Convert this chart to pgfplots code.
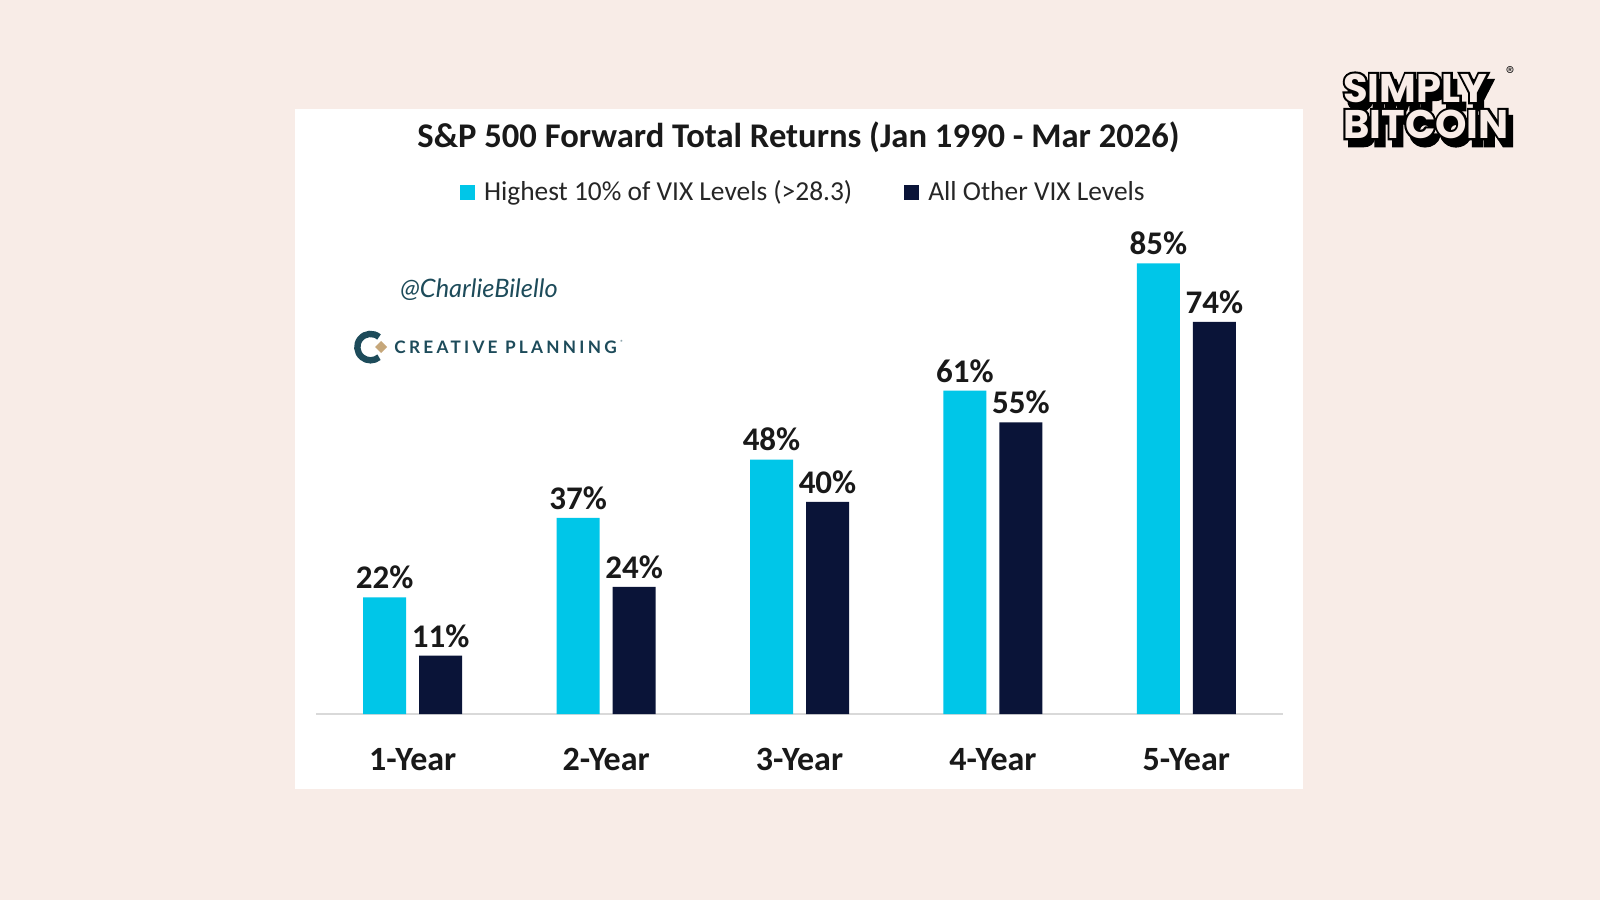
\documentclass[border=0pt]{standalone}
\usepackage{pgfplots}
\pgfplotsset{compat=1.18}
\usepackage{fontspec}
\setmainfont{Carlito}
\newfontfamily\handfont{Lato}
\newfontfamily\cpfont{Lato}[LetterSpace=19]
\newfontfamily\sbfont{Poppins}
\newfontfamily\sbfat{Poppins}[BoldFeatures={FakeBold=11}]

\definecolor{bg}{HTML}{F8ECE7}
\definecolor{vixhigh}{HTML}{00C6E8}
\definecolor{vixother}{HTML}{0A1438}
\definecolor{cpteal}{HTML}{1D4B5A}
\definecolor{cpgold}{HTML}{C6A77A}
\definecolor{baseln}{HTML}{D9D9D9}

\tikzset{sbword/.style={align=left, inner sep=0pt,
  font=\sbfont\bfseries\fontsize{20}{18}\selectfont},
  sbshadow/.style={align=left, inner sep=0pt, text=black,
  font=\sbfat\bfseries\fontsize{20}{18}\selectfont}}

\begin{document}
\begin{tikzpicture}[x=1pt,y=1pt]
% page and white chart panel
\fill[bg] (0,0) rectangle (800,450);
\fill[white] (147.5,55.5) rectangle (651.5,395.5);

% title
\node[font=\bfseries\fontsize{17.3}{20}\selectfont, text=black!90] at (399.25,381.5)
  {S\&P 500 Forward Total Returns (Jan 1990 - Mar 2026)};

% author tag and company mark
\node[font=\handfont\itshape\fontsize{12.7}{14}\selectfont, text=cpteal] at (239.5,305) {@CharlieBilello};
\draw[cpteal, line width=3.2pt] (189.5,281.5) arc[start angle=50, end angle=310, radius=6.6pt];
\fill[cpgold] (187.5,276.5) -- (190.5,279.5) -- (193.5,276.5) -- (190.5,273.5) -- cycle;
\node[anchor=west, font=\cpfont\bfseries\fontsize{8.6}{10}\selectfont, text=cpteal, inner sep=0pt] at (197,276.5) {CREATIVE PLANNING};
\node[font=\fontsize{3}{3}\selectfont, text=cpteal] at (311,279) {\textregistered};

% channel logo: outlined letters with a block shadow
\begin{scope}[shift={(713,397)}, rotate=8]
  \node[sbshadow] at (1.8,-3.8) {SIMPLY\\BITCOIN};
  \node[sbshadow] at (0,0) {SIMPLY\\BITCOIN};
  \node[sbword, text=bg] at (0,0) {SIMPLY\\BITCOIN};
\end{scope}
\node[font=\sffamily\bfseries\fontsize{5}{5}\selectfont, text=black] at (755,415) {\textregistered};

\begin{axis}[
  at={(158pt,93pt)}, anchor=south west,
  scale only axis, width=483.5pt, height=238.5pt,
  xmin=-0.5, xmax=4.5, ymin=0, ymax=90,
  axis x line=bottom, axis y line=none,
  x axis line style={-, draw=baseln, line width=0.9pt},
  xtick=data, xticklabels={1-Year,2-Year,3-Year,4-Year,5-Year},
  major tick length=0pt,
  xticklabel style={font=\bfseries\fontsize{17}{19}\selectfont, text=black!90, anchor=base, inner sep=0pt, yshift=-28pt},
  ybar=6.5pt, bar width=21.5pt,
  clip=false,
  /pgf/number format/assume math mode=true,
  nodes near coords={\pgfmathprintnumber{\pgfplotspointmeta}\%},
  nodes near coords style={font=\bfseries\fontsize{16.5}{18}\selectfont, text=black!90, anchor=south, inner sep=0pt, yshift=4pt},
  legend columns=2,
  legend style={at={(rel axis cs:0.505,1.094)}, anchor=center, draw=none, fill=none,
    font=\fontsize{13.7}{15}\selectfont, text=black!85,
    /tikz/every odd column/.append style={column sep=2.5pt},
    /tikz/every even column/.append style={column sep=24pt}},
  legend image code/.code={\fill[#1] (0pt,-3.75pt) rectangle (7.5pt,3.75pt);},
]
\addplot[fill=vixhigh, draw=none] coordinates {(0,22) (1,37) (2,48) (3,61) (4,85)};
\addlegendentry{Highest 10\% of VIX Levels (>28.3)}
\addplot[fill=vixother, draw=none] coordinates {(0,11) (1,24) (2,40) (3,55) (4,74)};
\addlegendentry{All Other VIX Levels}
\end{axis}
\end{tikzpicture}
\end{document}
